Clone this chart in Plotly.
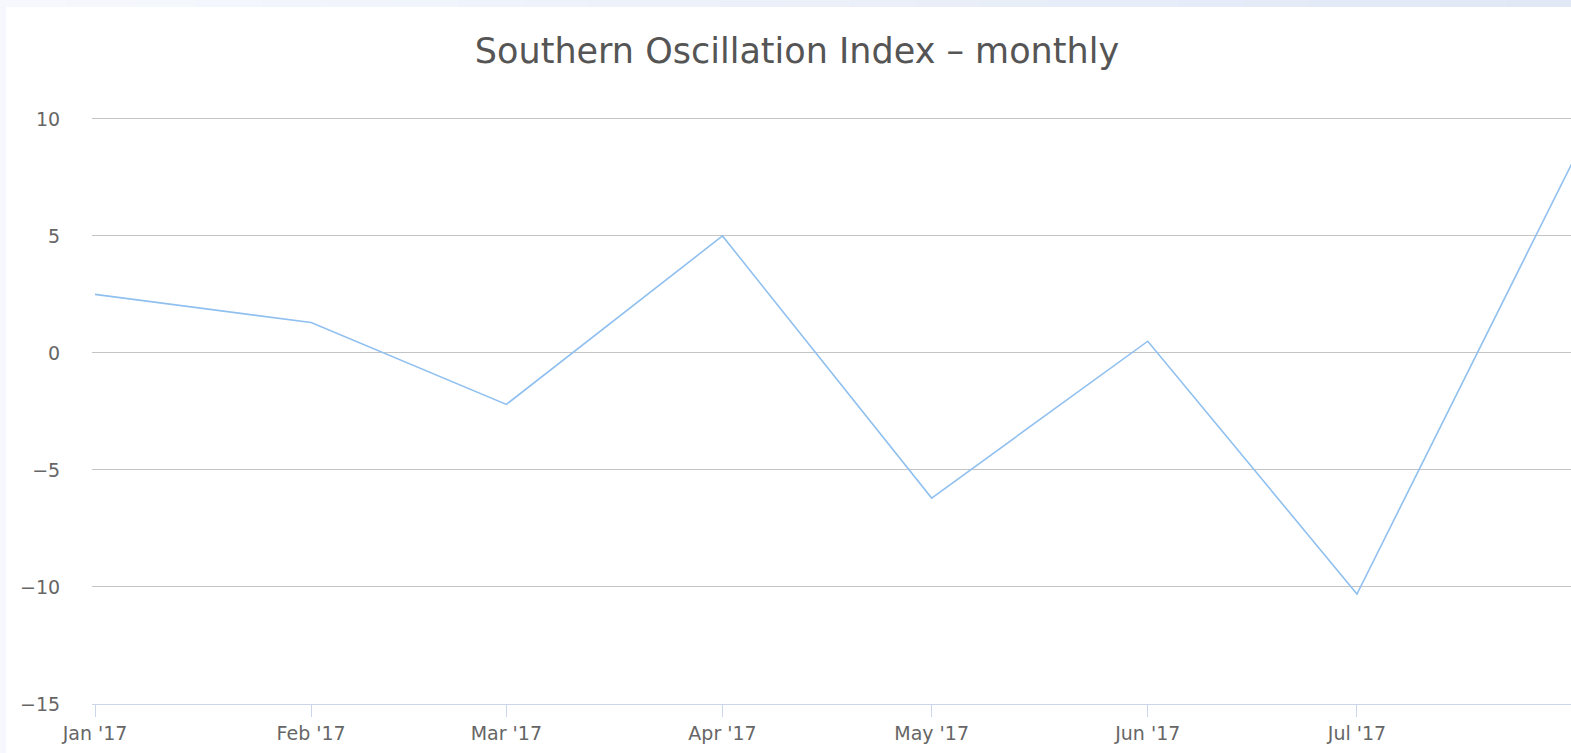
import plotly.graph_objects as go

months = ["2017-01-01", "2017-02-01", "2017-03-01", "2017-04-01",
          "2017-05-01", "2017-06-01", "2017-07-01", "2017-08-01"]
soi = [2.5, 1.3, -2.2, 5.0, -6.2, 0.5, -10.3, 8.2]
y_ticks = [-15, -10, -5, 0, 5, 10]
x_ticks = months[:7]
x_labels = ["Jan '17", "Feb '17", "Mar '17", "Apr '17", "May '17", "Jun '17", "Jul '17"]

W, H = 1571, 753
L, R, T, B = 92, 0, 117, 49
pw, ph = W - L - R, H - T - B
YMIN, YMAX = -15, 10.08

def px_x(p):
    return (p - L) / pw

def px_y(p):
    return (H - B - p) / ph

fig = go.Figure()
fig.add_trace(go.Scatter(x=months, y=soi, mode="lines",
                         line=dict(color="#90c0ef", width=1.6),
                         hoverinfo="x+y", showlegend=False))

shapes = []
# white card
shapes.append(dict(type="rect", xref="paper", yref="paper", layer="below",
                   x0=px_x(6), x1=px_x(W + 5), y0=px_y(H + 5), y1=px_y(7),
                   fillcolor="white", line=dict(width=0)))
# top gradient strip
n = 24
c0 = (246, 248, 253)
c1 = (224, 232, 246)
for i in range(n):
    t = i / (n - 1)
    col = "rgb(%d,%d,%d)" % tuple(round(a + (b - a) * t) for a, b in zip(c0, c1))
    shapes.append(dict(type="rect", xref="paper", yref="paper", layer="below",
                       x0=px_x(W * i / n), x1=px_x(W * (i + 1) / n + 1),
                       y0=px_y(7), y1=px_y(-2), fillcolor=col, line=dict(width=0)))

fig.update_layout(
    width=W, height=H,
    margin=dict(l=L, r=R, t=T, b=B, pad=0),
    paper_bgcolor="#f5f7fc", plot_bgcolor="rgba(0,0,0,0)",
    shapes=shapes,
    title=dict(text="Southern Oscillation Index – monthly",
               x=px_x(797), xref="paper", xanchor="center", y=1 - 51 / H, yanchor="middle",
               font=dict(family="DejaVu Sans", size=35, color="#555555")),
    font=dict(family="DejaVu Sans", color="#666666"),
    xaxis=dict(type="date", range=["2016-12-31 13:40", "2017-07-31 16:48"],
               tickvals=x_ticks, ticktext=x_labels,
               showgrid=False, zeroline=False,
               showline=True, linecolor="#ccd6eb", linewidth=1,
               ticks="outside", ticklen=12, tickcolor="#ccd6eb", tickwidth=1,
               tickfont=dict(size=19, color="#666666")),
    yaxis=dict(range=[YMIN, YMAX], tickvals=y_ticks,
               showgrid=True, gridcolor="#c4c4c4", gridwidth=1,
               zeroline=False, showline=False,
               ticks="outside", ticklen=0, ticklabelstandoff=27,
               tickfont=dict(size=19, color="#666666")),
)

fig.write_html("out.html", config={"displayModeBar": False},
               post_script="document.body.style.margin='0';document.body.style.overflow='hidden';")
